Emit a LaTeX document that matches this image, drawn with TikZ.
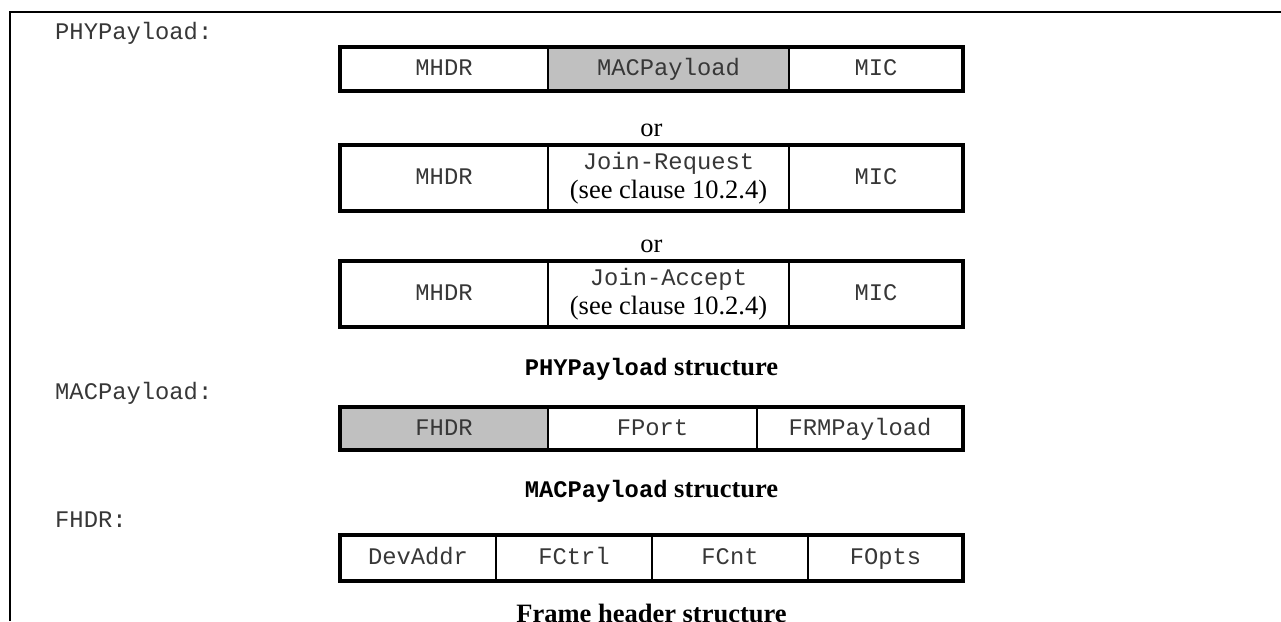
\documentclass[tikz,border=0pt]{standalone}
\usepackage{fontspec}
\setmainfont{Liberation Serif}
\setmonofont{Liberation Mono}
\newcommand{\fmono}{\fontsize{23.8}{30}\selectfont\ttfamily}
\newcommand{\fserif}{\fontsize{26.5}{30}\selectfont\rmfamily}
\definecolor{shadegray}{RGB}{192,192,192}
\definecolor{inkgray}{RGB}{55,55,55}
\tikzset{
  cell/.style={draw=black, line width=1.5pt, inner sep=0pt, outer sep=0pt,
    anchor=north west, font=\fmono, text=inkgray,
    text height=17pt, text depth=3.4pt},
  grayfill/.style={cell, fill=shadegray},
  tablerim/.style={draw=black, line width=3.5pt},
  fieldname/.style={anchor=base west, inner sep=0pt, font=\fmono, text=inkgray},
  ortext/.style={anchor=base, inner sep=0pt, font=\fserif},
  figcaption/.style={anchor=base, inner sep=0pt, font=\fserif\bfseries},
  framerule/.style={draw=black, line width=2pt}
}
\begin{document}
\begin{tikzpicture}[x=1pt, y=-1pt]
\useasboundingbox (0,0) rectangle (1281,621);

% page frame
\coordinate (fbl) at (10,621);
\coordinate (ftl) at (10,12);
\coordinate (ftr) at (1281,12);
\draw[framerule] (fbl) -- (ftl) -- (ftr);

% PHYPayload
\node[fieldname] (lphy) at (55,39) {PHYPayload:};

\node[cell, minimum width=208pt, minimum height=44pt] (a1) at (340,47) {MHDR};
\node[grayfill, minimum width=241pt, minimum height=44pt] (a2) at (548,47) {MACPayload};
\node[cell, minimum width=174pt, minimum height=44pt] (a3) at (789,47) {MIC};
\draw[tablerim] (a1.north west) rectangle (a3.south east);

\node[ortext] (or1) at (651.5,136) {or};

\node[cell, minimum width=208pt, minimum height=66pt] (b1) at (340,145) {MHDR};
\node[cell, minimum width=241pt, minimum height=66pt, text height=, text depth=, align=center]
  (b2) at (548,145) {Join-Request\\[-1pt]{\fserif\color{black}(see clause 10.2.4)}};
\node[cell, minimum width=174pt, minimum height=66pt] (b3) at (789,145) {MIC};
\draw[tablerim] (b1.north west) rectangle (b3.south east);

\node[ortext] (or2) at (651.5,252) {or};

\node[cell, minimum width=208pt, minimum height=66pt] (c1) at (340,261) {MHDR};
\node[cell, minimum width=241pt, minimum height=66pt, text height=, text depth=, align=center]
  (c2) at (548,261) {Join-Accept\\[-1pt]{\fserif\color{black}(see clause 10.2.4)}};
\node[cell, minimum width=174pt, minimum height=66pt] (c3) at (789,261) {MIC};
\draw[tablerim] (c1.north west) rectangle (c3.south east);

\node[figcaption] (cap1) at (651.5,375) {{\fmono\bfseries PHYPayload} structure};

% MACPayload
\node[fieldname] (lmac) at (55,399) {MACPayload:};

\node[grayfill, minimum width=208pt, minimum height=43pt] (d1) at (340,407) {FHDR};
\node[cell, minimum width=209pt, minimum height=43pt] (d2) at (548,407) {FPort};
\node[cell, minimum width=206pt, minimum height=43pt] (d3) at (757,407) {FRMPayload};
\draw[tablerim] (d1.north west) rectangle (d3.south east);

\node[figcaption] (cap2) at (651.5,497) {{\fmono\bfseries MACPayload} structure};

% FHDR
\node[fieldname] (lfhdr) at (55,527) {FHDR:};

\node[cell, minimum width=156pt, minimum height=46pt] (e1) at (340,535) {DevAddr};
\node[cell, minimum width=156pt, minimum height=46pt] (e2) at (496,535) {FCtrl};
\node[cell, minimum width=156pt, minimum height=46pt] (e3) at (652,535) {FCnt};
\node[cell, minimum width=155pt, minimum height=46pt] (e4) at (808,535) {FOpts};
\draw[tablerim] (e1.north west) rectangle (e4.south east);

\node[figcaption] (cap3) at (651.5,622) {Frame header structure};
\end{tikzpicture}
\end{document}
